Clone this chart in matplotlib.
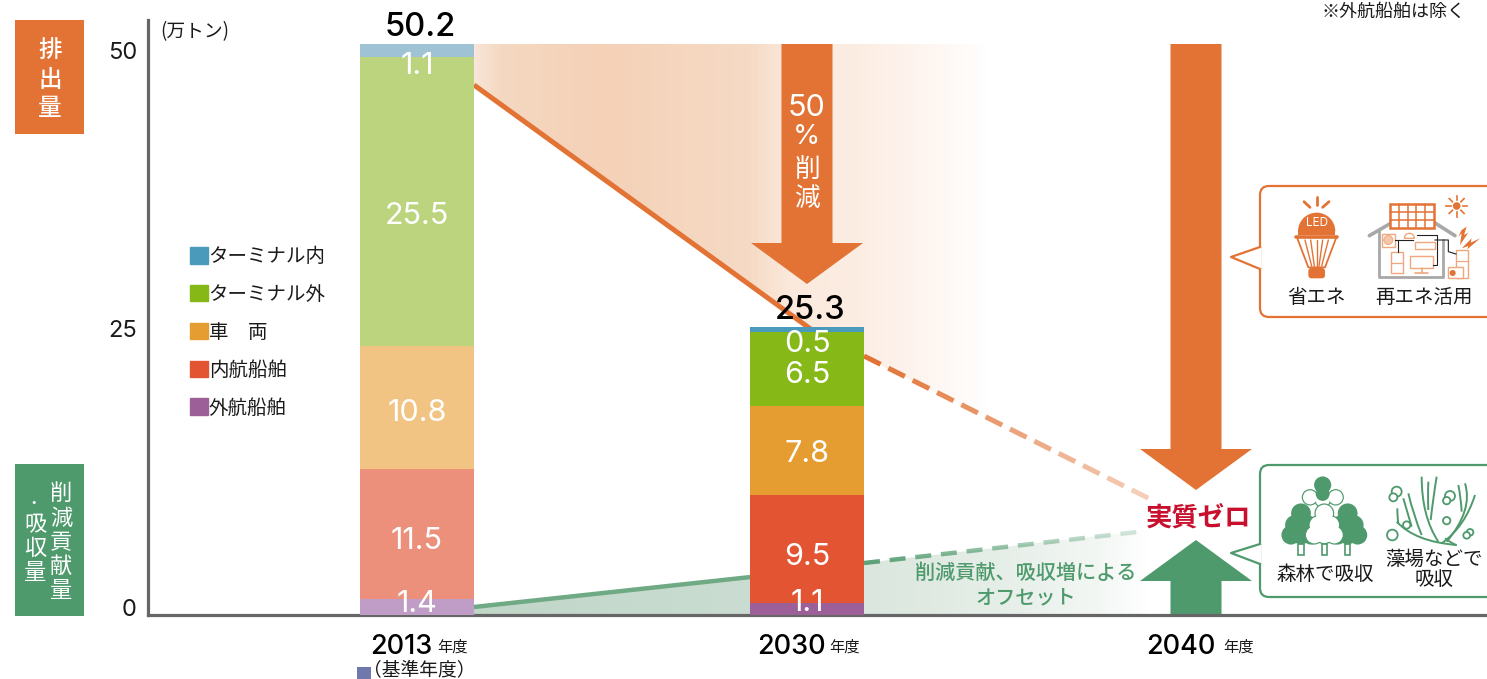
import matplotlib
matplotlib.use("Agg")
import matplotlib.pyplot as plt
import numpy as np
from matplotlib.colors import LinearSegmentedColormap
from matplotlib.patches import Polygon, Rectangle, Circle, FancyBboxPatch, Patch, PathPatch, Wedge
from matplotlib.path import Path
from matplotlib.transforms import ScaledTranslation

plt.rcParams['font.family'] = ['Noto Sans CJK JP', 'DejaVu Sans']
NUM_FONT = ['Inter', 'DejaVu Sans']

years = ["2013", "2030", "2040"]
bar_years = [0, 1]
series_names = ["外航船舶", "内航船舶", "車　両", "ターミナル外", "ターミナル内"]
outer_ship = [1.4, 1.1]
inner_ship = [11.5, 9.5]
vehicle = [10.8, 7.8]
term_out = [25.5, 6.5]
term_in = [1.1, 0.5]
totals = [50.2, 25.3]
y_ticks = [0, 25, 50]

series_values = [outer_ship, inner_ship, vehicle, term_out, term_in]
series_colors = ["#9C5F98", "#E35532", "#E59C30", "#86B818", "#4A9ABB"]
series_light = ["#BF9DC6", "#EC907C", "#F2C483", "#BBD47D", "#9FC3D4"]
# how far each value label sits from the middle of its segment, in px (down is +)
label_shift = [[-3, -6], [7, 8], [6, 4], [15, 6], [16, 14]]

ORANGE = "#E27335"
GREEN = "#4E9A6C"
INK = "#1A1A1A"
W, H = 1487, 679

fig = plt.figure(figsize=(W / 100, H / 100), dpi=100, facecolor="white")

# bg axes works in picture pixels, for everything around the chart
bg = fig.add_axes([0, 0, 1, 1], zorder=0)
bg.set_xlim(0, W)
bg.set_ylim(H, 0)
bg.axis("off")


def label(x, y, s, **kw):
    # the CJK font sits a little high with va=center
    kw.setdefault("ha", "center")
    kw.setdefault("color", INK)
    return bg.text(x, y + 2.5, s, va="center", zorder=5, **kw)


# real chart axes
left, right, bottom, top = 148, W, 615, 20
ax = fig.add_axes([left / W, 1 - bottom / H, (right - left) / W, (bottom - top) / H], zorder=1)
ax.patch.set_visible(False)
x_px = 390.0
y_px = 11.35
ax.set_xlim((left - 417) / x_px, (right - 417) / x_px)
ax.set_ylim(0, (bottom - top) / y_px)
for s in ["top", "right"]:
    ax.spines[s].set_visible(False)
for s in ["left", "bottom"]:
    ax.spines[s].set_color("#666666")
    ax.spines[s].set_linewidth(2.3)

base = np.zeros(len(bar_years))
for vals, col, pale, shift in zip(series_values, series_colors, series_light, label_shift):
    ax.bar(bar_years, vals, width=114 / x_px, bottom=base, color=[pale, col], linewidth=0, zorder=3)
    for i, v in enumerate(vals):
        ax.annotate(f"{v}", (bar_years[i], base[i] + v / 2), xytext=(0, -shift[i] * 0.72),
                    textcoords="offset points", ha="center", va="center",
                    color="white", fontsize=22, family=NUM_FONT, zorder=5)
    base = base + np.array(vals)

for i, t in enumerate(totals):
    ax.annotate(f"{t}", (bar_years[i], t), xytext=(2, 6.5), textcoords="offset points",
                ha="center", va="baseline", fontsize=23.5, fontweight="medium", family=NUM_FONT,
                color="black", zorder=6)

ax.set_yticks(y_ticks, [str(t) for t in y_ticks])
ax.tick_params(axis="y", length=0, pad=8, labelsize=17, labelcolor=INK)
for lbl, dy in zip(ax.get_yticklabels(), [8, 3, -3]):
    lbl.set_family(NUM_FONT)
    lbl.set_transform(lbl.get_transform() + ScaledTranslation(0, dy / 100, fig.dpi_scale_trans))

ax.set_xticks(range(len(years)), years)
ax.tick_params(axis="x", length=0, pad=13.5, labelsize=19.5)
for lbl in ax.get_xticklabels():
    lbl.set_family(NUM_FONT)
    lbl.set_fontweight("medium")
    lbl.set_transform(lbl.get_transform() + ScaledTranslation(-16 / 100, 0, fig.dpi_scale_trans))

handles = [Patch(color=c, label=n) for n, c in zip(series_names, series_colors)][::-1]
fig.legend(handles=handles, loc="upper left", bbox_to_anchor=(184 / W, 1 - 240 / H), frameon=False,
           fontsize=14, handlelength=0.95, handleheight=0.95, handletextpad=0.02,
           labelspacing=0.87, borderpad=0.3, borderaxespad=0, labelcolor=INK)


def grad(stops, x0, x1, y0, y1, outline):
    pos = [(x - x0) / (x1 - x0) for x, _ in stops]
    cmap = LinearSegmentedColormap.from_list("g", list(zip(pos, [c for _, c in stops])))
    im = bg.imshow(np.linspace(0, 1, 512)[None, :], extent=(x0, x1, y1, y0), aspect="auto",
                   cmap=cmap, zorder=1, interpolation="bilinear")
    im.set_clip_path(Polygon(outline, closed=True, transform=bg.transData))


grad([(474, "#F8E6D8"), (500, "#F5D8C1"), (600, "#F4D1B7"), (750, "#F6DAC5"), (790, "#FBE9DC"),
      (860, "#FCEDE3"), (930, "#FEF6F1"), (990, "#FFFFFF")], 474, 990, 44, 500,
     [(474, 44), (990, 44), (990, 419), (864, 357), (807, 326), (474, 85)])
grad([(474, "#C0D6C7"), (750, "#CBDDD2"), (864, "#DAE6DE"), (1000, "#E6EEE8"), (1100, "#F3F7F4"),
      (1150, "#FFFFFF")], 474, 1150, 525, 615,
     [(474, 607), (750, 577), (864, 563), (1150, 530), (1150, 615), (474, 615)])
bg.set_xlim(0, W)
bg.set_ylim(H, 0)

# trend lines, solid then fading dashes
bg.plot([474, 812], [85, 330], color=ORANGE, lw=3.6, solid_capstyle="butt", zorder=2)
bg.plot([474, 760], [607, 576], color="#6FAA85", lw=3.2, solid_capstyle="butt", zorder=2)


def dashes(p0, p1, n, frac, color, lw, a0, a1):
    t0 = np.linspace(0, 1, n, endpoint=False)
    step = 1 / n
    for t, a in zip(t0, np.linspace(a0, a1, n)):
        x = [p0[0] + (p1[0] - p0[0]) * t, p0[0] + (p1[0] - p0[0]) * (t + step * frac)]
        y = [p0[1] + (p1[1] - p0[1]) * t, p0[1] + (p1[1] - p0[1]) * (t + step * frac)]
        bg.plot(x, y, color=color, lw=lw, alpha=a, solid_capstyle="butt", zorder=2)


dashes((864, 356), (1156, 502), 12, 0.68, ORANGE, 3.6, 1.0, 0.35)
dashes((864, 563), (1146, 531), 11, 0.62, GREEN, 3.2, 0.9, 0.25)


def down_arrow(cx, top_y, neck_y, tip_y, color):
    pts = [(cx - 25.5, top_y), (cx + 25.5, top_y), (cx + 25.5, neck_y), (cx + 56, neck_y),
           (cx, tip_y), (cx - 56, neck_y), (cx - 25.5, neck_y)]
    bg.add_patch(Polygon(pts, closed=True, fc=color, ec="none", zorder=3))


down_arrow(807, 44, 243, 284, ORANGE)
down_arrow(1196, 44, 449, 490, ORANGE)
down_arrow(1196, 615, 581, 540, GREEN)

# side labels
bg.add_patch(Rectangle((15, 20), 69, 114, fc=ORANGE, ec="none"))
bg.add_patch(Rectangle((15, 464), 69, 152, fc=GREEN, ec="none"))
for ch, y in zip("排出量", [48, 78, 106]):
    label(50, y, ch, color="white", fontsize=17, fontweight="medium")
for ch, y in zip("削減貢献量", [491, 516, 540, 564, 588]):
    label(61, y, ch, color="white", fontsize=16)
for ch, y in zip("吸収量", [522, 546, 570]):
    label(35, y, ch, color="white", fontsize=16)
label(34, 501, "・", color="white", fontsize=9, fontweight="bold")

label(160, 29, "(万トン)", fontsize=13.5, ha="left")
label(1393, 9, "※外航船舶は除く", fontsize=13)
label(807, 105, "50", color="white", fontsize=22, family=NUM_FONT)
label(807, 135, "%", color="white", fontsize=20, family=NUM_FONT)
for t, y in zip(["削", "減"], [167, 196]):
    label(807, y, t, color="white", fontsize=18.5)
label(1199, 516, "実質ゼロ", color="#C8102E", fontsize=19, fontweight="bold")
label(1026, 571, "削減貢献、吸収増による", color=GREEN, fontsize=14.5, fontweight="medium")
label(1026, 595, "オフセット", color=GREEN, fontsize=14.5, fontweight="medium")
for x in [453, 844, 1238]:
    label(x, 645, "年度", fontsize=11)
bg.add_patch(Rectangle((357, 667), 14, 12, fc="#6F78AD", ec="none"))
label(419, 667, "（基準年度）", fontsize=13.5)


def callout(y0, y1, tip_y, b0, b1, color):
    bg.add_patch(FancyBboxPatch((1260, y0), 260, y1 - y0, boxstyle="round,pad=0,rounding_size=9",
                                fc="white", ec=color, lw=1.6, zorder=3))
    bg.add_patch(Polygon([(1261, b0), (1231, tip_y), (1261, b1)], closed=True, fc="white", ec="none", zorder=4))
    bg.plot([1260, 1231, 1260], [b0, tip_y, b1], color=color, lw=1.6, zorder=4)


callout(186, 317, 257, 247, 269, ORANGE)
callout(465, 597, 553, 544, 564, GREEN)

for x, y, t in [(1316, 295, "省エネ"), (1424, 295, "再エネ活用"), (1325, 572, "森林で吸収")]:
    label(x, y, t, fontsize=14)
label(1434, 567, "藻場などで\n吸収", fontsize=14, linespacing=0.9)


# icons, drawn from points
def z6(x, y):
    return x / 3 + 1280, y / 3 + 190


def z7(x, y):
    return x / 3 + 1265, y / 3 + 470


def line(f, pts, color, lw=1.0):
    xy = [f(*p) for p in pts]
    bg.plot([p[0] for p in xy], [p[1] for p in xy], color=color, lw=lw, zorder=6, solid_capstyle="round")


def rect6(x0, y0, x1, y1, color, lw=0.9, fc="white"):
    a, b = z6(x0, y0), z6(x1, y1)
    bg.add_patch(Rectangle(a, b[0] - a[0], b[1] - a[1], fc=fc, ec=color, lw=lw, zorder=6))


# LED bulb
for a, b in [((110, 22), (110, 45)), ((72, 35), (90, 52)), ((147, 35), (128, 52))]:
    line(z6, [a, b], ORANGE, 2.0)
bg.add_patch(Wedge(z6(110, 124), 56 / 3, 180, 360, fc=ORANGE, ec="none", zorder=6))
bg.add_patch(Rectangle(z6(54, 122), 112 / 3, 14 / 3, fc=ORANGE, ec="none", zorder=6))
bg.text(*z6(110, 100), "LED", color="white", fontsize=8.5, family=NUM_FONT, ha="center", va="center", zorder=7)
line(z6, [(48, 140), (172, 140)], ORANGE, 2.6)
line(z6, [(52, 145), (85, 232), (135, 232), (168, 145)], ORANGE, 1.3)
for xa, xb in [(75, 95), (92, 103), (110, 110), (128, 117), (145, 125)]:
    line(z6, [(xa, 150), (xb, 228)], ORANGE, 1.0)
bg.add_patch(FancyBboxPatch(z6(85, 234), 50 / 3, 31 / 3, boxstyle="round,pad=0,rounding_size=3",
                            fc=ORANGE, ec="none", zorder=6))

# house
line(z6, [(268, 137), (332, 100)], "#A8A8A8", 2.6)
line(z6, [(462, 97), (525, 137)], "#A8A8A8", 2.6)
line(z6, [(298, 122), (298, 260), (490, 260), (490, 150)], "#A8A8A8", 2.0)
rect6(330, 42, 462, 115, ORANGE, 1.8, "white")
for gx in [356, 383, 409, 436]:
    line(z6, [(gx, 42), (gx, 115)], ORANGE, 1.1)
for gy in [66, 90]:
    line(z6, [(330, gy), (462, gy)], ORANGE, 1.1)
sx, sy = z6(530, 48)
bg.add_patch(Circle((sx, sy), 3.8, fc=ORANGE, ec="none", zorder=6))
for ang in np.deg2rad(np.arange(0, 360, 45)):
    bg.plot([sx + 6 * np.cos(ang), sx + 10.5 * np.cos(ang)], [sy + 6 * np.sin(ang), sy + 10.5 * np.sin(ang)],
            color=ORANGE, lw=1.2, zorder=6)
for pts in ([(560, 110), (552, 135), (565, 128), (540, 165), (545, 130), (535, 140), (545, 120)],
            [(600, 145), (572, 158), (575, 145), (545, 175), (565, 168), (562, 178)]):
    bg.add_patch(Polygon([z6(*p) for p in pts], closed=True, fc=ORANGE, ec="none", zorder=6))
light = "#EFA77E"
rect6(305, 132, 345, 170, light, 1.0)
bg.add_patch(Circle(z6(325, 150), 4.5, fc="#F4C6AA", ec=light, lw=0.7, zorder=7))
rect6(332, 185, 368, 250, light, 1.0)
line(z6, [(332, 220), (368, 220)], light, 0.9)
rect6(390, 198, 460, 235, light, 1.0)
line(z6, [(405, 248), (445, 248)], light, 1.2)
line(z6, [(425, 235), (425, 248)], light, 1.2)
rect6(405, 155, 465, 178, light, 1.0)
bg.add_patch(Wedge(z6(388, 145), 5, 180, 360, fc="white", ec=light, lw=1.0, zorder=7))
rect6(528, 180, 565, 265, light, 1.0)
line(z6, [(528, 212), (565, 212)], light, 0.9)
rect6(503, 232, 550, 265, light, 1.0)
bg.add_patch(Circle(z6(518, 249), 3, fc=ORANGE, ec="none", zorder=7))
for wire in ([(345, 150), (400, 150)], [(410, 135), (470, 135), (470, 225), (460, 225)],
             [(355, 150), (355, 185)], [(465, 150), (505, 150), (505, 185), (528, 192)]):
    xy = [z6(*p) for p in wire]
    bg.plot([p[0] for p in xy], [p[1] for p in xy], color="#222222", lw=0.8, zorder=8)


# trees
def blob(circles, fc):
    for x, y, r in circles:
        bg.add_patch(Circle(z7(x, y), r / 3 + 0.9, fc=GREEN, ec="none", zorder=6))
    if fc != GREEN:
        for x, y, r in circles:
            bg.add_patch(Circle(z7(x, y), r / 3 - 0.3, fc=fc, ec="none", zorder=6))


def shape(cx):
    return [(cx, 130, 27), (cx - 18, 165, 27), (cx + 18, 165, 27), (cx - 30, 195, 26), (cx + 30, 195, 26), (cx, 190, 30)]


blob([(135, 82, 22), (173, 90, 22), (212, 82, 22)], "white")
blob([(173, 45, 23), (173, 72, 18)], GREEN)
for tx in [108, 178, 248]:
    a = z7(tx - 8, 222)
    bg.add_patch(Rectangle(a, 16 / 3, 32 / 3, fc="white", ec=GREEN, lw=1.2, zorder=6))
blob(shape(108), GREEN)
blob(shape(248), GREEN)
blob(shape(178), "white")

# seaweed
weed = [[(395, 155), (450, 215), (575, 225)], [(397, 115), (397, 140), (400, 162)], [(430, 70), (445, 135), (470, 195)],
        [(415, 85), (428, 130), (440, 170)], [(470, 20), (470, 140), (520, 215)], [(490, 35), (488, 80), (490, 120)],
        [(515, 20), (505, 80), (497, 150)], [(600, 40), (625, 120), (545, 215)], [(580, 45), (588, 85), (590, 125)],
        [(630, 75), (600, 170), (530, 220)], [(540, 205), (555, 217), (575, 226)]]
for w in weed:
    p = Path([z7(*q) for q in w], [Path.MOVETO, Path.CURVE3, Path.CURVE3])
    bg.add_patch(PathPatch(p, fc="none", ec=GREEN, lw=1.4, zorder=6))
for x, y, r in [(395, 65, 15), (385, 82, 12), (555, 78, 15), (545, 92, 11), (545, 152, 11), (382, 195, 16),
                (425, 165, 11), (615, 187, 10), (605, 196, 10)]:
    bg.add_patch(Circle(z7(x, y), r / 3, fc="white", ec=GREEN, lw=1.3, zorder=7))

fig.savefig("out.png", dpi=100)
